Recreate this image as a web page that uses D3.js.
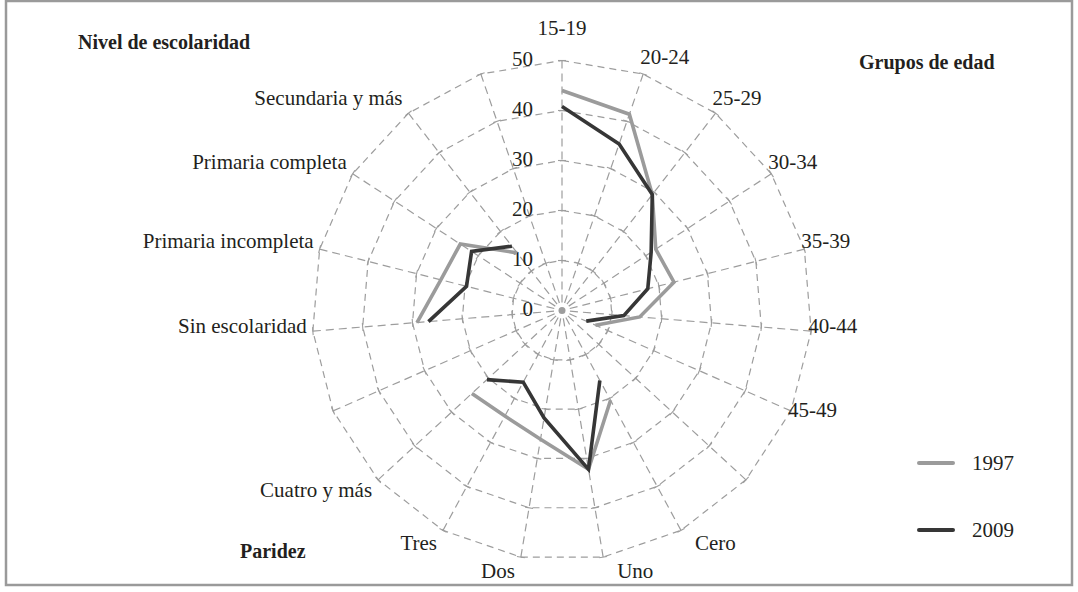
<!DOCTYPE html>
<html lang="es">
<head>
<meta charset="UTF-8">
<script src="https://cdnjs.cloudflare.com/ajax/libs/d3/7.8.5/d3.min.js"></script>
<style>
  body { margin: 0; background: #fff; }
  text { font-family: "Liberation Serif", "DejaVu Serif", serif; fill: #231f20; }
</style>
</head>
<body>
<script>
// categorias (los vacios separan los tres bloques)
const categories = ["15-19", "20-24", "25-29", "30-34", "35-39", "40-44", "45-49", "",
  "Cero", "Uno", "Dos", "Tres", "Cuatro y más", "",
  "Sin escolaridad", "Primaria incompleta", "Primaria completa", "Secundaria y más", ""];

const values1997 = [44.0, 41.5, 29.4, 22.4, 23.1, 15.6, 7.3, null,
  20.4, 32.2, 26.1, 24.0, 24.5, null,
  29.1, 25.0, 24.3, 14.6, null];
const values2009 = [40.8, 35.2, 29.4, 21.3, 17.7, 12.4, 5.3, null,
  15.9, 32.2, 21.8, 16.3, 20.4, null,
  26.8, 19.7, 21.6, 16.3, null];

const ringTicks = [0, 10, 20, 30, 40, 50];
const seriesNames = ["1997", "2009"];
const seriesColors = ["#9b9b9b", "#363636"];
const groupTitles = ["Nivel de escolaridad", "Grupos de edad", "Paridez"];

const width = 1078, height = 592;
const cx = 562, cy = 310.5, R = 250;
const fs = 21;

const svg = d3.select("body").append("svg")
  .attr("width", width).attr("height", height);

// marco
svg.append("rect")
  .attr("x", 6).attr("y", 1).attr("width", 1066).attr("height", 584)
  .attr("fill", "none").attr("stroke", "#9a9a9a").attr("stroke-width", 2.5);

const g = svg.append("g").attr("transform", `translate(${cx},${cy})`);

const n = categories.length;
const angle = d3.scaleLinear().domain([0, n]).range([0, 2 * Math.PI]);
const r = d3.scaleLinear().domain([0, 50]).range([0, R]);

const px = (i, v) => r(v) * Math.sin(angle(i));
const py = (i, v) => -r(v) * Math.cos(angle(i));

const gridColor = "#9d9d9d";

// anillos
g.selectAll(".ring").data(ringTicks.filter(d => d > 0)).enter()
  .append("path")
  .attr("class", "ring")
  .attr("d", v => d3.lineRadial().angle((d, i) => angle(i)).radius(() => r(v))
    .curve(d3.curveLinearClosed)(categories))
  .attr("fill", "none").attr("stroke", gridColor)
  .attr("stroke-width", 1.2).attr("stroke-dasharray", "7,5");

// ejes radiales
g.selectAll(".spoke").data(categories).enter()
  .append("line")
  .attr("class", "spoke")
  .attr("x1", (d, i) => 8 * Math.sin(angle(i)))
  .attr("y1", (d, i) => -8 * Math.cos(angle(i)))
  .attr("x2", (d, i) => px(i, 50))
  .attr("y2", (d, i) => py(i, 50))
  .attr("stroke", gridColor).attr("stroke-width", 1.2).attr("stroke-dasharray", "8,5");

// marcas en cada cruce
const tickData = [];
categories.forEach((c, i) => ringTicks.filter(v => v > 0).forEach(v => tickData.push({ i, v })));
g.selectAll(".tick").data(tickData).enter()
  .append("line")
  .attr("x1", d => px(d.i, d.v) - 4 * Math.cos(angle(d.i)))
  .attr("y1", d => py(d.i, d.v) - 4 * Math.sin(angle(d.i)))
  .attr("x2", d => px(d.i, d.v) + 4 * Math.cos(angle(d.i)))
  .attr("y2", d => py(d.i, d.v) + 4 * Math.sin(angle(d.i)))
  .attr("stroke", gridColor).attr("stroke-width", 1.1);

g.append("circle").attr("r", 3.5).attr("fill", "#9d9d9d");

// etiquetas de valores
g.selectAll(".vlabel").data(ringTicks).enter()
  .append("text")
  .attr("x", -29)
  .attr("y", d => -r(d) - 2)
  .attr("dy", "0.35em")
  .attr("text-anchor", "end")
  .attr("font-size", fs)
  .text(d => d);

// etiquetas de categorias
g.selectAll(".clabel").data(categories).enter()
  .filter(d => d !== "")
  .append("text")
  .each(function (d) {
    const i = categories.indexOf(d);
    const s = Math.sin(angle(i)), c = Math.cos(angle(i));
    const ex = px(i, 50), ey = py(i, 50);
    const low = c < -0.5 ? 8 : 0;
    let x, y, anchor;
    if (i === 0) { x = 0; y = ey - 33; anchor = "middle"; }
    else if (s > 0) { x = ex - 3 + (low ? 17 : 0); y = ey - c * 12 - 6 + low; anchor = "start"; }
    else { x = ex - 6; y = ey - c * 12 - 6 + low; anchor = "end"; }
    d3.select(this).attr("x", x).attr("y", y).attr("dy", "0.35em").attr("text-anchor", anchor);
  })
  .attr("font-size", fs)
  .text(d => d);

// series
const line = d3.lineRadial()
  .defined(d => d != null)
  .angle((d, i) => angle(i))
  .radius(d => r(d));

[values1997, values2009].forEach((vals, k) => {
  g.append("path")
    .attr("d", line(vals))
    .attr("fill", "none")
    .attr("stroke", seriesColors[k])
    .attr("stroke-width", 3.6)
    .attr("stroke-linejoin", "miter");
});

// titulos de grupo
const titlePos = [[78, 42], [859, 62], [240, 551]];
groupTitles.forEach((t, k) => {
  svg.append("text")
    .attr("x", titlePos[k][0]).attr("y", titlePos[k][1]).attr("dy", "0.35em")
    .attr("font-size", 20).attr("font-weight", "bold")
    .text(t);
});

// leyenda
const legend = svg.append("g").attr("transform", "translate(919,463)");
seriesNames.forEach((s, k) => {
  legend.append("line")
    .attr("x1", 0).attr("x2", 34).attr("y1", k * 67).attr("y2", k * 67)
    .attr("stroke", seriesColors[k]).attr("stroke-width", 4).attr("stroke-linecap", "round");
  legend.append("text")
    .attr("x", 53).attr("y", k * 67).attr("dy", "0.35em")
    .attr("font-size", fs).text(s);
});
</script>
</body>
</html>
